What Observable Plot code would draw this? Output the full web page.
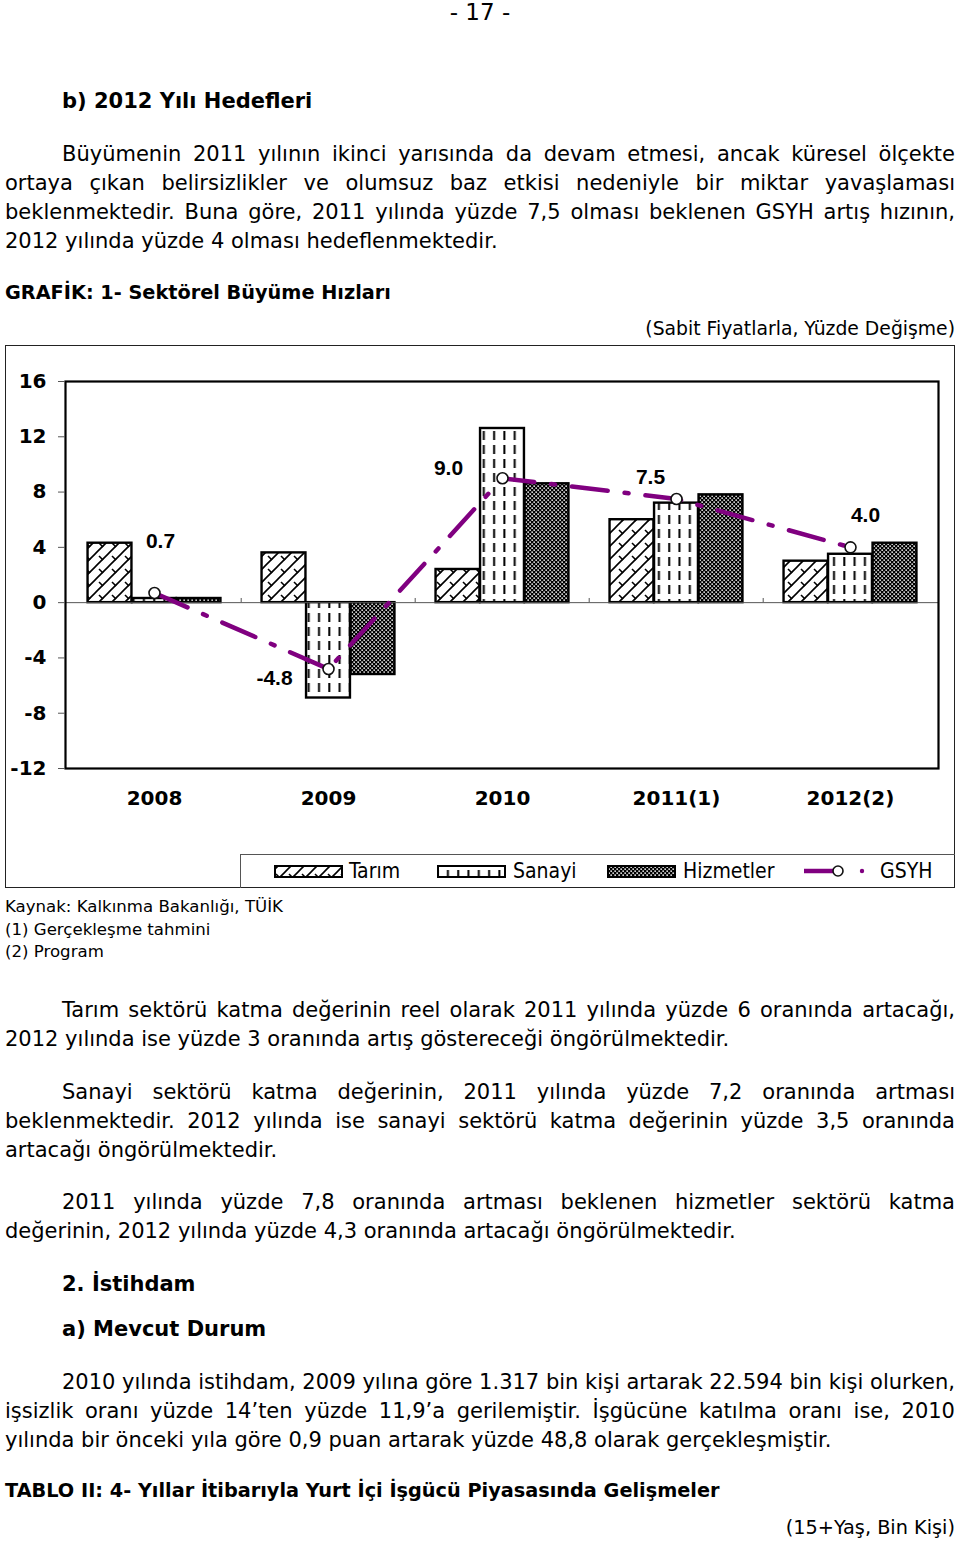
<!DOCTYPE html>
<html><head><meta charset="utf-8">
<script src="https://cdn.jsdelivr.net/npm/d3@7"></script>
<script src="https://cdn.jsdelivr.net/npm/@observablehq/plot@0.6"></script>
<style>
body{margin:0;background:#fff;width:960px;height:1542px;position:relative;overflow:hidden;font-family:"DejaVu Sans","Liberation Sans",sans-serif;color:#000}
.t{position:absolute;font-size:21px;line-height:29px;white-space:nowrap}
.j{text-align:justify;text-align-last:justify}
.b{font-weight:bold}
#box{position:absolute;left:5px;top:345px;width:950px;height:543px;box-sizing:border-box;border:1.5px solid #222}
#chart{position:absolute;left:5px;top:345px}
#legend{position:absolute;left:240px;top:854px;width:715px;height:34px;box-sizing:border-box;border-left:1px solid #555;border-top:1px solid #555}
.lt{position:absolute;font-family:"DejaVu Sans Condensed","DejaVu Sans",sans-serif;font-size:21px;line-height:24px;top:859px;white-space:nowrap}
</style></head><body>
<svg width="0" height="0" style="position:absolute"><defs>
<pattern id="pTarim" patternUnits="userSpaceOnUse" width="13" height="13">
<rect width="13" height="13" fill="#fff"/>
<path d="M-1,14 L14,-1 M-4,4 L4,-4 M9,17 L17,9" stroke="#000" stroke-width="1.6" fill="none"/>
<path d="M3,3 L7,7" stroke="#000" stroke-width="1.6" fill="none"/>
</pattern>
<pattern id="pSanayi" patternUnits="userSpaceOnUse" width="10.3" height="14">
<rect width="10.3" height="14" fill="#fff"/>
<path d="M5,2 L5,11" stroke="#000" stroke-width="2" fill="none"/>
</pattern>
<pattern id="pHizmet" patternUnits="userSpaceOnUse" width="4" height="4">
<rect width="4" height="4" fill="#000"/>
<rect x="0.4" y="0.4" width="1.5" height="1.5" fill="#fff"/>
<rect x="2.4" y="2.4" width="1.5" height="1.5" fill="#fff"/>
</pattern>
</defs></svg>
<div id="text"></div>
<div id="box"></div>
<div id="chart"></div>
<div id="legend"></div>
<svg style="position:absolute;left:0;top:0" width="960" height="900" id="legsw"></svg>
<script>
// ---- data ----
const years = ["2008", "2009", "2010", "2011(1)", "2012(2)"];
const tarim = [4.3, 3.6, 2.4, 6.0, 3.0];
const sanayi = [0.3, -6.9, 12.6, 7.2, 3.5];
const hizmetler = [0.3, -5.2, 8.6, 7.8, 4.3];
const gsyh = [0.7, -4.8, 9.0, 7.5, 4.0];
const yTicks = [-12, -8, -4, 0, 4, 8, 12, 16];
const seriesNames = ["Tarım", "Sanayi", "Hizmetler", "GSYH"];

// ---- page text ----
const lines = [
  ["- 17 -", 12, "c"],
  ["b) 2012 Yılı Hedefleri", 101, 62, "b"],
  ["Büyümenin 2011 yılının ikinci yarısında da devam etmesi, ancak küresel ölçekte", 154, 62, "j"],
  ["ortaya çıkan belirsizlikler ve olumsuz baz etkisi nedeniyle bir miktar yavaşlaması", 183, 5, "j"],
  ["beklenmektedir. Buna göre, 2011 yılında yüzde 7,5 olması beklenen GSYH artış hızının,", 212, 5, "j"],
  ["2012 yılında yüzde 4 olması hedeflenmektedir.", 241, 5, ""],
  ["GRAFİK: 1- Sektörel Büyüme Hızları", 292, 5, "b s"],
  ["(Sabit Fiyatlarla, Yüzde Değişme)", 328, "r", "s2"],
  ["Kaynak: Kalkınma Bakanlığı, TÜİK", 907, 5, "f"],
  ["(1) Gerçekleşme tahmini", 930, 5, "f"],
  ["(2) Program", 952, 5, "f"],
  ["Tarım sektörü katma değerinin reel olarak 2011 yılında yüzde 6 oranında artacağı,", 1010, 62, "j"],
  ["2012 yılında ise yüzde 3 oranında artış göstereceği öngörülmektedir.", 1039, 5, ""],
  ["Sanayi sektörü katma değerinin, 2011 yılında yüzde 7,2 oranında artması", 1092, 62, "j"],
  ["beklenmektedir. 2012 yılında ise sanayi sektörü katma değerinin yüzde 3,5 oranında", 1121, 5, "j"],
  ["artacağı öngörülmektedir.", 1150, 5, ""],
  ["2011 yılında yüzde 7,8 oranında artması beklenen hizmetler sektörü katma", 1202, 62, "j"],
  ["değerinin, 2012 yılında yüzde 4,3 oranında artacağı öngörülmektedir.", 1231, 5, ""],
  ["2. İstihdam", 1284, 62, "b"],
  ["a) Mevcut Durum", 1329, 62, "b"],
  ["2010 yılında istihdam, 2009 yılına göre 1.317 bin kişi artarak 22.594 bin kişi olurken,", 1382, 62, "j"],
  ["işsizlik oranı yüzde 14’ten yüzde 11,9’a gerilemiştir. İşgücüne katılma oranı ise, 2010", 1411, 5, "j"],
  ["yılında bir önceki yıla göre 0,9 puan artarak yüzde 48,8 olarak gerçekleşmiştir.", 1440, 5, ""],
  ["TABLO II: 4- Yıllar İtibarıyla Yurt İçi İşgücü Piyasasında Gelişmeler", 1490, 5, "b s"],
  ["(15+Yaş, Bin Kişi)", 1527, "r", "s"]
];
const host = document.getElementById("text");
for (const [txt, cy, x, cls] of lines) {
  const d = document.createElement("div");
  d.className = "t";
  const c = cls || "";
  if (c.includes("b")) d.classList.add("b");
  if (c.includes("s")) d.style.fontSize = "19.3px";
  if (c.includes("s2")) d.style.fontSize = "18.8px";
  d.style.top = (cy - 14.5) + "px";
  if (c.includes("f")) { d.style.fontSize = "16.6px"; d.style.lineHeight = "22px"; d.style.top = (cy - 11) + "px"; }
  if (x === "c") { d.style.left = "0px"; d.style.width = "960px"; d.style.textAlign = "center"; d.style.fontSize = "23px"; }
  else if (x === "r") { d.style.right = "5px"; }
  else { d.style.left = x + "px"; }
  host.appendChild(d);
  if (c.includes("j")) {
    const target = 955 - x;
    const s = document.createElement("span");
    s.textContent = txt;
    d.appendChild(s);
    const w = s.getBoundingClientRect().width;
    const nSp = txt.split(" ").length - 1;
    d.textContent = txt;
    d.classList.add("j");
    d.style.width = target + "px";
    if (w > target) d.style.wordSpacing = ((target - w) / nSp - 0.3) + "px";
  } else {
    d.textContent = txt;
  }
}

// ---- chart ----
const data = years.map((year, i) => ({year, tarim: tarim[i], sanayi: sanayi[i], hizmetler: hizmetler[i], gsyh: gsyh[i]}));
const W = 950, H = 470, mL = 60, mR = 17, mT = 36, mB = 47;
const bw = (W - mL - mR) / years.length;
const barW = 44.5;
const pad = (bw - 3 * barW) / 2;
const fmt = v => v.toFixed(1);
const labelOffsets = [[6, -52], [-54, 9], [-54, -10], [-26, -22], [15, -32]];
const purple = "#800080";

const chart = Plot.plot({
  width: W, height: H,
  marginLeft: mL, marginRight: mR, marginTop: mT, marginBottom: mB,
  style: {fontFamily: "'DejaVu Sans','Liberation Sans',sans-serif", background: "transparent", color: "#000", overflow: "visible"},
  x: {domain: years, padding: 0, label: null},
  y: {domain: [-12, 16], label: null},
  marks: [
    Plot.barY(data, {x: "year", y1: 0, y2: "tarim", fill: "url(#pTarim)", stroke: "#000", strokeWidth: 2.4, insetLeft: pad, insetRight: pad + 2 * barW}),
    Plot.barY(data, {x: "year", y1: 0, y2: "sanayi", fill: "url(#pSanayi)", stroke: "#000", strokeWidth: 2.4, insetLeft: pad + barW, insetRight: pad + barW}),
    Plot.barY(data, {x: "year", y1: 0, y2: "hizmetler", fill: "url(#pHizmet)", stroke: "#000", strokeWidth: 2.4, insetLeft: pad + 2 * barW, insetRight: pad}),
    Plot.ruleY([0], {stroke: "#555", strokeWidth: 1}),
    Plot.ruleX(years.slice(1), {x: d => d, y1: 0, y2: 0.3, dx: -bw / 2, stroke: "#555", strokeWidth: 1}),
    Plot.line(data, {x: "year", y: "gsyh", stroke: purple, strokeWidth: 4.5, strokeDasharray: "36,17,4,17"}),
    Plot.dot(data, {x: "year", y: "gsyh", r: 5.5, fill: "#fff", stroke: "#111", strokeWidth: 1.6}),
    ...data.map((d, i) => Plot.text([d], {x: "year", y: "gsyh", text: e => fmt(e.gsyh), dx: labelOffsets[i][0], dy: labelOffsets[i][1],
      fontSize: 21, fontWeight: "bold", fontFamily: "'Liberation Sans',Arial,sans-serif", fill: "#000"})),
    Plot.frame({stroke: "#000", strokeWidth: 2.2}),
    Plot.axisY({ticks: yTicks, tickFormat: d => String(d), tickSize: 7, tickPadding: 12, fontSize: 20, fontWeight: "bold", stroke: "#555"}),
    Plot.axisX({tickSize: 0, tickPadding: 22, fontSize: 20, fontWeight: "bold"})
  ]
});
document.getElementById("chart").appendChild(chart);

// ---- legend ----
const leg = d3.select("#legsw");
const swatches = [["url(#pTarim)", 275, 349], ["url(#pSanayi)", 438, 513], ["url(#pHizmet)", 608, 683]];
swatches.forEach(([f, x, tx], i) => {
  leg.append("rect").attr("x", x).attr("y", 866).attr("width", 67).attr("height", 11).attr("fill", f).attr("stroke", "#000").attr("stroke-width", 2);
  const d = document.createElement("div");
  d.className = "lt"; d.style.left = tx + "px"; d.textContent = seriesNames[i];
  document.body.appendChild(d);
});
leg.append("line").attr("x1", 804).attr("x2", 834).attr("y1", 871).attr("y2", 871).attr("stroke", purple).attr("stroke-width", 4.5);
leg.append("circle").attr("cx", 838).attr("cy", 871).attr("r", 5).attr("fill", "#fff").attr("stroke", "#111").attr("stroke-width", 1.6);
leg.append("circle").attr("cx", 862).attr("cy", 871).attr("r", 2.2).attr("fill", purple);
const g = document.createElement("div");
g.className = "lt"; g.style.left = "880px"; g.textContent = seriesNames[3];
document.body.appendChild(g);
</script>
</body></html>
